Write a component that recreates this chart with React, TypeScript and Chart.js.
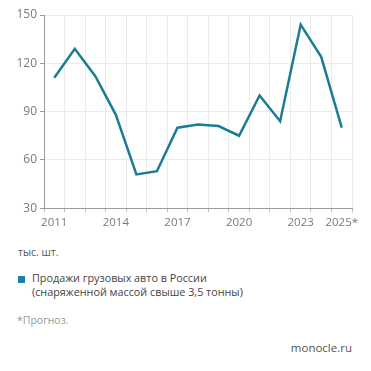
import React, { useEffect, useRef } from "react";
import { Chart, registerables } from "chart.js";

Chart.register(...registerables);

const years = ["2011","2012","2013","2014","2015","2016","2017","2018","2019","2020","2021","2022","2023","2024","2025*"];
const sales = [111, 129, 112, 88, 51, 53, 80, 82, 81, 75, 100, 84, 144, 124, 80];
const shownLabels = ["2011","2014","2017","2020","2023","2025*"];
const yTicks = [30, 60, 90, 120, 150];

const FONT = "'Open Sans', Lato, sans-serif";

export default function App() {
  const ref = useRef<HTMLCanvasElement | null>(null);
  useEffect(() => {
    if (!ref.current) return;
    const chart = new Chart(ref.current, {
      type: "line",
      data: {
        labels: years,
        datasets: [{
          data: sales,
          borderColor: "#1b7d93",
          borderWidth: 2.5,
          pointRadius: 0,
          tension: 0,
          fill: false,
        }],
      },
      options: {
        animation: false,
        responsive: false,
        maintainAspectRatio: false,
        layout: { padding: { left: 0, right: 19, top: 15, bottom: 0 } },
        plugins: { legend: { display: false }, tooltip: { enabled: false } },
        scales: {
          x: {
            offset: true,
            grid: { offset: true, color: "#ebebeb", lineWidth: 1, drawTicks: true, tickLength: 4, tickColor: "#bbb" },
            border: { color: "#9a9a9a", width: 1 },
            ticks: {
              autoSkip: false,
              maxRotation: 0,
              color: "#7a7a7a",
              font: { family: FONT, size: 11.5 },
              padding: 4,
              callback: (_v: any, i: number) => (shownLabels.includes(years[i]) ? years[i] : ""),
            },
          },
          y: {
            min: 30,
            max: 150,
            afterBuildTicks: (axis: any) => { axis.ticks = yTicks.map((v) => ({ value: v })); },
            afterFit: (axis: any) => { axis.width = 44; },
            grid: { color: "#ebebeb", lineWidth: 1, drawTicks: true, tickLength: 4, tickColor: "#9a9a9a" },
            border: { color: "#9a9a9a", width: 1 },
            ticks: {
              color: "#7a7a7a",
              font: { family: FONT, size: 12 },
              padding: 3,
            },
          },
        },
      },
    });
    return () => chart.destroy();
  }, []);

  const txt: React.CSSProperties = { position: "absolute", fontFamily: FONT, margin: 0, whiteSpace: "nowrap" };
  return (
    <div style={{ position: "fixed", left: 0, top: 0, width: 371, height: 371, background: "#fff" }}>
      <canvas ref={ref} width={371} height={234} style={{ position: "absolute", left: 0, top: 0, width: 371, height: 234 }} />
      <div style={{ ...txt, left: 18, top: 245, fontSize: 10.5, color: "#555" }}>тыс. шт.</div>
      <div style={{ position: "absolute", left: 18, top: 276, width: 7, height: 7, background: "#1a82a6" }} />
      <div style={{ ...txt, left: 32, top: 271, fontSize: 10.8, color: "#444", lineHeight: "14px" }}>
        Продажи грузовых авто в России<br />(снаряженной массой свыше 3,5 тонны)
      </div>
      <div style={{ ...txt, left: 17, top: 313, fontSize: 10.5, color: "#999" }}>*Прогноз.</div>
      <div style={{ ...txt, right: 19, top: 340, fontSize: 11.5, color: "#555" }}>monocle.ru</div>
    </div>
  );
}
